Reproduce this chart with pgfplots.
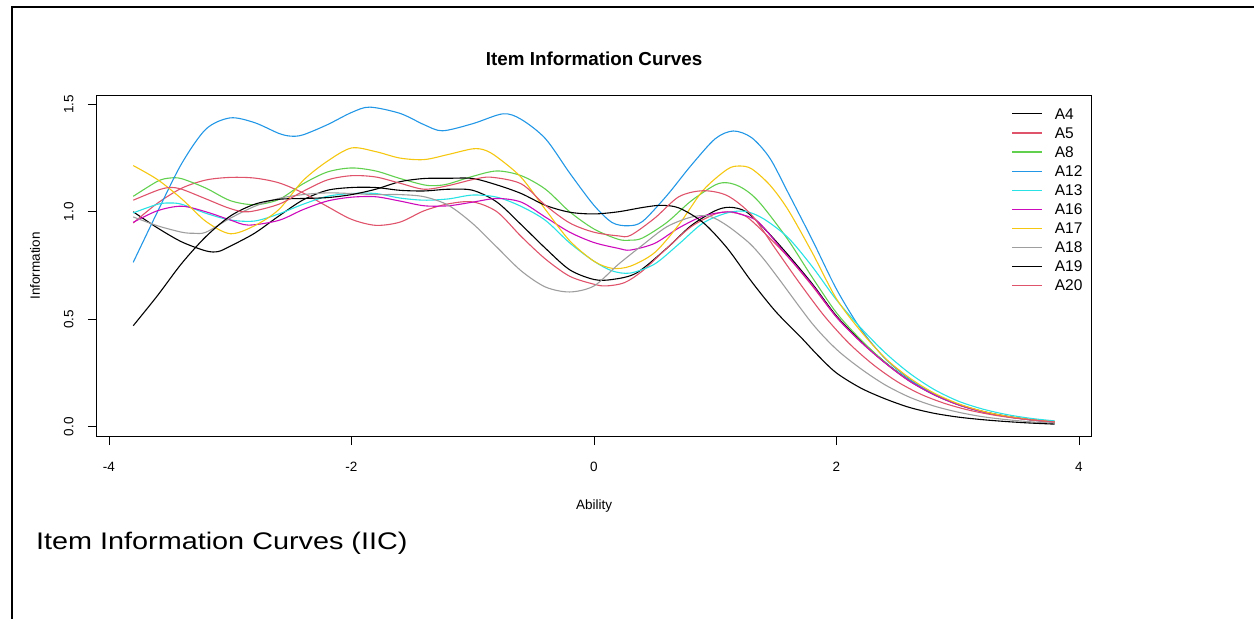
\documentclass[border=0pt]{standalone}
\usepackage{pgfplots}
\pgfplotsset{compat=1.18}
\usepackage{fontspec}
\setmainfont{Liberation Sans}
\definecolor{rred}{HTML}{DF536B}
\definecolor{rgreen}{HTML}{61D04F}
\definecolor{rblue}{HTML}{2297E6}
\definecolor{rcyan}{HTML}{28E2E5}
\definecolor{rmag}{HTML}{CD0BBC}
\definecolor{ryel}{HTML}{F5C710}
\definecolor{rgray}{HTML}{9E9E9E}
\begin{document}
\begin{tikzpicture}
\path[use as bounding box] (0pt,0pt) rectangle (1254pt,619pt);
\draw[line width=2pt] (1254pt,612pt) -- (12pt,612pt) -- (12pt,0pt);
\node[anchor=base west, inner sep=0pt, font=\fontsize{24}{28}\selectfont] at (36pt,69pt) {\scalebox{1.2}[1]{Item Information Curves (IIC)}};
\begin{axis}[
  at={(96.5pt,182.3pt)}, anchor=south west,
  scale only axis, width=995.2pt, height=341.7pt,
  xmin=-4.103, xmax=4.105, ymin=-0.0465, ymax=1.5435,
  axis line style={line width=0.9pt},
  tick align=outside, xtick pos=bottom, ytick pos=left,
  major tick length=8.5pt,
  tick style={line width=0.9pt, black},
  xtick={-4,-2,0,2,4}, xticklabels={-4,-2,0,2,4},
  ytick={0,0.5,1,1.5}, yticklabels={0.0,0.5,1.0,1.5},
  ticklabel style={font=\fontsize{13.5}{16}\selectfont},
  yticklabel style={rotate=90, anchor=south},
  xticklabel shift=13pt, yticklabel shift=11pt,
  title={Item Information Curves},
  every axis title/.style={at={(axis description cs:0.5,1.0857)}, anchor=base, font=\bfseries\fontsize{18.8}{22}\selectfont},
  xlabel={Ability}, ylabel={Information},
  every axis x label/.style={at={(axis description cs:0.5,-0.2145)}, anchor=base, font=\fontsize{13.5}{16}\selectfont},
  every axis y label/.style={at={(axis description cs:-0.057,0.5)}, rotate=90, anchor=base, font=\fontsize{13.5}{16}\selectfont},
  legend style={at={(axis description cs:0.9195,0.96064)}, anchor=north west, draw=none, fill=none, inner sep=0pt, column sep=0pt, row sep=8.57pt,
    nodes={inner sep=0pt, anchor=west, text height=10.5pt, text depth=0pt},
    font=\fontsize{15.5}{18}\selectfont},
  legend image code/.code={\draw[#1] (0pt,0pt) -- (30pt,0pt); \path (42pt,0pt);},
  every axis plot/.append style={line width=1.1pt, smooth, tension=0.5},
]
\addplot[black] coordinates {(-3.8,1.0) (-3.6,0.925) (-3.4,0.86) (-3.2,0.818) (-3.1,0.815) (-3.0,0.84) (-2.8,0.90) (-2.6,0.98) (-2.4,1.055) (-2.2,1.10) (-2.0,1.113) (-1.8,1.113) (-1.6,1.10) (-1.4,1.097) (-1.2,1.105) (-1.0,1.10) (-0.8,1.045) (-0.6,0.94) (-0.4,0.83) (-0.2,0.73) (0.0,0.685) (0.15,0.685) (0.35,0.715) (0.6,0.83) (0.8,0.935) (1.0,1.005) (1.12,1.021) (1.25,1.002) (1.4,0.925) (1.6,0.80) (1.8,0.665) (2.0,0.515) (2.2,0.40) (2.4,0.30) (2.6,0.215) (2.8,0.152) (3.0,0.105) (3.2,0.072) (3.4,0.049) (3.6,0.033) (3.8,0.022)};
\addlegendentry{A4}
\addplot[rred] coordinates {(-3.8,0.948) (-3.6,1.04) (-3.4,1.11) (-3.2,1.148) (-3.0,1.16) (-2.8,1.157) (-2.6,1.135) (-2.4,1.088) (-2.2,1.025) (-2.0,0.965) (-1.8,0.937) (-1.6,0.952) (-1.4,1.005) (-1.2,1.037) (-1.0,1.046) (-0.8,1.0) (-0.6,0.885) (-0.4,0.78) (-0.2,0.70) (0.0,0.663) (0.1,0.655) (0.25,0.67) (0.4,0.725) (0.6,0.83) (0.8,0.93) (1.0,0.99) (1.12,0.998) (1.25,0.98) (1.4,0.905) (1.6,0.79) (1.8,0.655) (2.0,0.51) (2.2,0.395) (2.4,0.297) (2.6,0.213) (2.8,0.15) (3.0,0.103) (3.2,0.071) (3.4,0.048) (3.6,0.032) (3.8,0.021)};
\addlegendentry{A5}
\addplot[rgreen] coordinates {(-3.8,1.072) (-3.6,1.142) (-3.5,1.157) (-3.4,1.154) (-3.2,1.11) (-3.0,1.052) (-2.8,1.033) (-2.6,1.057) (-2.4,1.13) (-2.2,1.185) (-2.0,1.204) (-1.8,1.19) (-1.6,1.155) (-1.4,1.125) (-1.3,1.122) (-1.2,1.13) (-1.0,1.165) (-0.8,1.19) (-0.6,1.168) (-0.4,1.105) (-0.2,1.0) (0.0,0.92) (0.2,0.872) (0.3,0.868) (0.4,0.878) (0.6,0.95) (0.8,1.05) (1.0,1.125) (1.1,1.135) (1.2,1.118) (1.3,1.08) (1.4,1.02) (1.6,0.87) (1.8,0.695) (2.0,0.53) (2.2,0.405) (2.4,0.30) (2.6,0.215) (2.8,0.15) (3.0,0.103) (3.2,0.07) (3.4,0.048) (3.6,0.032) (3.8,0.021)};
\addlegendentry{A8}
\addplot[rblue] coordinates {(-3.8,0.765) (-3.6,1.0) (-3.4,1.225) (-3.2,1.385) (-3.0,1.437) (-2.8,1.415) (-2.6,1.365) (-2.5,1.352) (-2.4,1.358) (-2.2,1.405) (-2.0,1.462) (-1.85,1.487) (-1.6,1.458) (-1.4,1.405) (-1.25,1.377) (-1.0,1.41) (-0.75,1.456) (-0.6,1.43) (-0.4,1.34) (-0.2,1.18) (0.0,1.03) (0.15,0.95) (0.28,0.935) (0.4,0.955) (0.6,1.075) (0.8,1.215) (1.0,1.34) (1.15,1.376) (1.3,1.345) (1.45,1.25) (1.6,1.09) (1.8,0.87) (2.0,0.64) (2.2,0.455) (2.4,0.318) (2.6,0.222) (2.8,0.153) (3.0,0.104) (3.2,0.07) (3.4,0.047) (3.6,0.032) (3.8,0.021)};
\addlegendentry{A12}
\addplot[rcyan] coordinates {(-3.8,0.995) (-3.6,1.035) (-3.5,1.041) (-3.4,1.035) (-3.2,0.993) (-3.0,0.962) (-2.8,0.957) (-2.6,0.99) (-2.4,1.035) (-2.2,1.072) (-2.0,1.085) (-1.8,1.085) (-1.6,1.064) (-1.4,1.054) (-1.2,1.06) (-1.0,1.078) (-0.8,1.068) (-0.6,1.025) (-0.4,0.96) (-0.2,0.855) (0.0,0.77) (0.15,0.725) (0.3,0.715) (0.5,0.757) (0.7,0.85) (0.9,0.948) (1.1,0.995) (1.25,1.002) (1.4,0.967) (1.6,0.88) (1.8,0.745) (2.0,0.59) (2.2,0.46) (2.4,0.345) (2.6,0.25) (2.8,0.175) (3.0,0.12) (3.2,0.083) (3.4,0.057) (3.6,0.039) (3.8,0.027)};
\addlegendentry{A13}
\addplot[rmag] coordinates {(-3.8,0.951) (-3.6,1.005) (-3.4,1.026) (-3.2,1.0) (-3.0,0.962) (-2.85,0.938) (-2.6,0.96) (-2.4,1.01) (-2.2,1.05) (-2.0,1.068) (-1.8,1.07) (-1.6,1.05) (-1.4,1.028) (-1.2,1.028) (-1.0,1.045) (-0.8,1.062) (-0.6,1.045) (-0.4,0.975) (-0.2,0.905) (0.0,0.857) (0.2,0.83) (0.3,0.822) (0.5,0.853) (0.7,0.925) (0.9,0.98) (1.1,1.0) (1.2,0.99) (1.35,0.955) (1.55,0.825) (1.8,0.66) (2.0,0.51) (2.2,0.395) (2.4,0.297) (2.6,0.213) (2.8,0.15) (3.0,0.103) (3.2,0.07) (3.4,0.048) (3.6,0.032) (3.8,0.021)};
\addlegendentry{A16}
\addplot[ryel] coordinates {(-3.8,1.215) (-3.6,1.15) (-3.4,1.06) (-3.2,0.955) (-3.0,0.898) (-2.8,0.935) (-2.6,1.01) (-2.4,1.145) (-2.2,1.235) (-2.0,1.297) (-1.8,1.28) (-1.6,1.25) (-1.4,1.243) (-1.2,1.267) (-1.0,1.293) (-0.9,1.287) (-0.8,1.255) (-0.6,1.16) (-0.4,1.01) (-0.2,0.865) (0.0,0.77) (0.15,0.737) (0.3,0.747) (0.5,0.81) (0.7,0.94) (0.9,1.10) (1.1,1.198) (1.2,1.213) (1.3,1.20) (1.45,1.125) (1.6,1.01) (1.8,0.81) (2.0,0.595) (2.2,0.445) (2.4,0.32) (2.6,0.228) (2.8,0.158) (3.0,0.108) (3.2,0.073) (3.4,0.049) (3.6,0.033) (3.8,0.022)};
\addlegendentry{A17}
\addplot[rgray] coordinates {(-3.8,0.976) (-3.6,0.935) (-3.4,0.905) (-3.3,0.9) (-3.2,0.905) (-3.0,0.97) (-2.8,1.025) (-2.6,1.062) (-2.4,1.08) (-2.2,1.088) (-2.0,1.085) (-1.8,1.08) (-1.6,1.08) (-1.4,1.07) (-1.2,1.03) (-1.0,0.945) (-0.8,0.835) (-0.6,0.725) (-0.4,0.65) (-0.2,0.627) (0.0,0.655) (0.2,0.755) (0.4,0.845) (0.6,0.93) (0.8,0.975) (0.95,0.98) (1.1,0.935) (1.28,0.855) (1.4,0.78) (1.53,0.684) (1.8,0.48) (2.0,0.36) (2.2,0.27) (2.4,0.195) (2.6,0.138) (2.8,0.097) (3.0,0.068) (3.2,0.047) (3.4,0.033) (3.6,0.023) (3.8,0.016)};
\addlegendentry{A18}
\addplot[black] coordinates {(-3.8,0.47) (-3.6,0.61) (-3.4,0.76) (-3.2,0.885) (-3.0,0.98) (-2.8,1.035) (-2.6,1.058) (-2.4,1.062) (-2.2,1.066) (-2.0,1.08) (-1.8,1.105) (-1.6,1.14) (-1.4,1.155) (-1.2,1.156) (-1.0,1.155) (-0.8,1.125) (-0.6,1.085) (-0.4,1.03) (-0.2,0.998) (0.0,0.99) (0.2,1.0) (0.4,1.02) (0.55,1.03) (0.7,1.018) (0.9,0.95) (1.1,0.83) (1.3,0.675) (1.5,0.535) (1.7,0.42) (1.85,0.33) (2.0,0.25) (2.2,0.18) (2.4,0.13) (2.6,0.09) (2.8,0.063) (3.0,0.045) (3.2,0.033) (3.4,0.024) (3.6,0.017) (3.8,0.012)};
\addlegendentry{A19}
\addplot[rred] coordinates {(-3.8,1.054) (-3.6,1.10) (-3.5,1.113) (-3.4,1.105) (-3.2,1.06) (-3.0,1.015) (-2.85,1.0) (-2.6,1.035) (-2.4,1.095) (-2.2,1.148) (-2.0,1.168) (-1.8,1.162) (-1.6,1.133) (-1.4,1.105) (-1.2,1.122) (-1.0,1.15) (-0.85,1.161) (-0.6,1.13) (-0.4,1.03) (-0.2,0.948) (0.0,0.905) (0.2,0.888) (0.3,0.89) (0.5,0.97) (0.7,1.07) (0.9,1.098) (1.1,1.075) (1.3,0.985) (1.5,0.825) (1.7,0.665) (1.9,0.515) (2.1,0.39) (2.3,0.29) (2.5,0.21) (2.7,0.15) (2.9,0.107) (3.1,0.076) (3.3,0.054) (3.5,0.038) (3.8,0.022)};
\addlegendentry{A20}
\end{axis}
\end{tikzpicture}
\end{document}
